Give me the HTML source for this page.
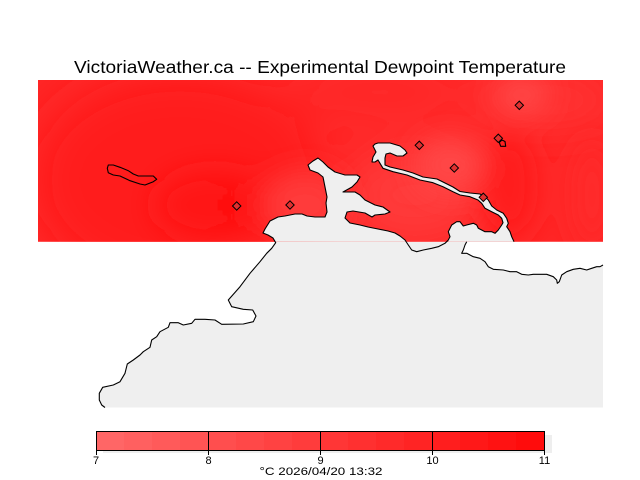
<!DOCTYPE html>
<html><head><meta charset="utf-8"><style>
html,body{margin:0;padding:0;background:#fff;}
svg{display:block;}
</style></head><body>
<svg width="640" height="480" viewBox="0 0 640 480" xmlns="http://www.w3.org/2000/svg">
<defs>
<clipPath id="c"><rect x="38" y="80" width="565" height="161.7"/></clipPath>
<filter id="b" filterUnits="userSpaceOnUse" x="0" y="0" width="640" height="480"><feGaussianBlur stdDeviation="14"/></filter>
<filter id="b2" filterUnits="userSpaceOnUse" x="0" y="0" width="640" height="480"><feGaussianBlur stdDeviation="22"/></filter>
</defs>
<rect width="640" height="480" fill="#fff"/>
<text x="320" y="73" text-anchor="middle" font-family="Liberation Sans, sans-serif" font-size="17.5" textLength="492" lengthAdjust="spacingAndGlyphs" fill="#000">VictoriaWeather.ca -- Experimental Dewpoint Temperature</text>

<!-- lower water (gray) -->
<polygon fill="#efefef" points="275,241.7 275.7,242.7 271.7,248.3 266.7,253.3 260,261.7 250,273.3 240,286.7 228.3,300 231.7,306.7 243.3,309.3 252.7,310 256,316 253.3,321.7 243.3,324 221.7,324.3 215,320 205,319.3 195,319.3 191.7,323.3 183.3,325 178.3,322.7 170,322.7 168.3,327.3 160,331.7 156.7,336.7 151.7,340 150,347.3 143.3,351.7 140,355 133.3,360 127.3,364 125,373.3 120,381.7 113.3,385 102.7,387.3 99.3,393.3 99.3,400 101.7,405 105,407.5 603,407.5 603,241.7"/>
<!-- white land right -->
<polygon fill="#fff" points="466.7,241.7 603,241.7 603,265 600,266.7 596.7,266.7 591.7,268.3 586.7,270 580,268.3 573.3,269.3 566.7,271.7 561.7,275 559.3,281.7 557.3,283.3 556.7,280 553.3,276.7 546.7,274.3 533.3,274.3 528.3,275 521.7,274.3 516.7,271.7 510,271.7 503.3,270 493.3,269.3 488.3,266.7 485,261.7 480,258.3 473.3,256.7 466.7,253.3 461.7,253.3 463.3,250 465,245"/>

<!-- red data field -->
<g clip-path="url(#c)">
<rect x="38" y="80" width="565" height="162" fill="#ff2626"/>
<g filter="url(#b2)">
<ellipse cx="180" cy="180" rx="150" ry="110" fill="#ff1d1d"/>
<ellipse cx="380" cy="92" rx="90" ry="18" fill="#ff2c2c"/>
<ellipse cx="415" cy="195" rx="70" ry="48" fill="#ff3a3a"/>
<ellipse cx="545" cy="100" rx="75" ry="24" fill="#ff3636"/>
</g>
<g filter="url(#b)">
<ellipse cx="215" cy="205" rx="60" ry="35" fill="#ff1515"/>
<ellipse cx="228" cy="205" rx="22" ry="11" fill="#ff0e0e"/>
<ellipse cx="305" cy="205" rx="42" ry="35" fill="#ff3a3a"/>
<ellipse cx="450" cy="165" rx="35" ry="28" fill="#ff4747"/>
<ellipse cx="522" cy="95" rx="28" ry="18" fill="#ff4a4a"/>
<ellipse cx="510" cy="185" rx="28" ry="55" fill="#ff1e1e"/>
<ellipse cx="592" cy="195" rx="18" ry="55" fill="#ff2a2a"/>
</g>
</g>

<!-- water over data -->
<polygon fill="#efefef" points="275,241.7 273,238 268,235 263,233 265,229 270,221 278,217 285,216 295,214 302,214 307,216 315,217 325,217 327,212 326,203 327,197 325,187 323,177 318,173 310,170 308,165 313,161 318,158 323,162 328,167 335,172 345,175 357,175 360,177 357,182 352,187 343,192 355,192 360,195 365,200 375,205 383,207 390,212 385,214 375,215 372,217 365,213 353,211 347,212 345,218 350,223 360,225 368,227 378,229 388,231 395,233 400,236 405,240 407,241.7 448.3,241.7 448.3,240 450,236.7 448.3,231.7 451.7,225 456.7,221.7 460,221.7 463.3,226 466.7,225 473.3,223.3 476.7,225 478.3,228.3 485,231.7 491.7,231.7 495,233.3 498.3,230 501.7,225 503,222.7 501.7,218.3 498.3,215 491.7,211.7 485,208.3 481.7,203.3 478,200 470,196.7 460,195 453,191.7 443,186.7 433,182.7 420,180 407,175 393,171.7 383,168.3 380,163.3 378,160 375,162 372,162 373,157 376,152 373,146 375,144 378,143 390,143 400,146 405,150 407,153 403,156 397,156 390,153 386,154 385,158 385,165 390,167 403,170 413,173 423,177 437,179 445,183 453,187 460,191.5 470,193 480,194 485,197 488.3,200 491.7,206 496.7,210 503.3,213.3 506.7,218.3 508.3,223.3 506.7,226.7 510,231.7 511.7,236.7 514,241.7"/>

<g fill="none" stroke="#000" stroke-width="1.1" stroke-linejoin="round">
<polyline points="105,407.5 101.7,405 99.3,400 99.3,393.3 102.7,387.3 113.3,385 120,381.7 125,373.3 127.3,364 133.3,360 140,355 143.3,351.7 150,347.3 151.7,340 156.7,336.7 160,331.7 168.3,327.3 170,322.7 178.3,322.7 183.3,325 191.7,323.3 195,319.3 205,319.3 215,320 221.7,324.3 243.3,324 253.3,321.7 256,316 252.7,310 243.3,309.3 231.7,306.7 228.3,300 240,286.7 250,273.3 260,261.7 266.7,253.3 271.7,248.3 275.7,242.7 273,238 268,235 263,233 265,229 270,221 278,217 285,216 295,214 302,214 307,216 315,217 325,217 327,212 326,203 327,197 325,187 323,177 318,173 310,170 308,165 313,161 318,158 323,162 328,167 335,172 345,175 357,175 360,177 357,182 352,187 343,192 355,192 360,195 365,200 375,205 383,207 390,212 385,214 375,215 372,217 365,213 353,211 347,212 345,218 350,223 360,225 368,227 378,229 388,231 395,233 400,236 405,240 408.3,245 411.7,250 416.7,251.7 423.3,250 431.7,248.3 438.3,246.7 445,243.3 448.3,240 450,236.7 448.3,231.7 451.7,225 456.7,221.7 460,221.7 463.3,226 466.7,225 473.3,223.3 476.7,225 478.3,228.3 485,231.7 491.7,231.7 495,233.3 498.3,230 501.7,225 503,222.7 501.7,218.3 498.3,215 491.7,211.7 485,208.3 481.7,203.3 478,200 470,196.7 460,195 453,191.7 443,186.7 433,182.7 420,180 407,175 393,171.7 383,168.3 380,163.3 378,160 375,162 372,162 373,157 376,152 373,146 375,144 378,143 390,143 400,146 405,150 407,153 403,156 397,156 390,153 386,154 385,158 385,165 390,167 403,170 413,173 423,177 437,179 445,183 453,187 460,191.5 470,193 480,194 485,197 488.3,200 491.7,206 496.7,210 503.3,213.3 506.7,218.3 508.3,223.3 506.7,226.7 510,231.7 511.7,236.7 514,241.7"/>
<polyline points="466.7,241.7 465,245 463.3,250 461.7,253.3 466.7,253.3 473.3,256.7 480,258.3 485,261.7 488.3,266.7 493.3,269.3 503.3,270 510,271.7 516.7,271.7 521.7,274.3 528.3,275 533.3,274.3 546.7,274.3 553.3,276.7 556.7,280 557.3,283.3 559.3,281.7 561.7,275 566.7,271.7 573.3,269.3 580,268.3 586.7,270 591.7,268.3 596.7,266.7 600,266.7 603,265"/>
<!-- island outline -->
<polygon points="108.3,165 113.3,165 120,167.3 128.3,170.7 133.3,174 138.3,176 153.3,176 156.7,179.3 153.3,181.7 145,185 140,184 130,180.7 120,176 113.3,175 108.3,172.7 107.3,168.3"/>
<!-- small pentagon -->
<polygon points="499.3,142.5 502,140 505,141.5 505.7,146.3 500.7,146.3"/>
</g>

<!-- station markers -->
<g stroke="#000" stroke-width="1" fill="#e03030">
<polygon points="236.7,201.8 240.9,206 236.7,210.2 232.5,206"/>
<polygon points="290,200.8 294.2,205 290,209.2 285.8,205"/>
<polygon points="519.3,101.1 523.5,105.3 519.3,109.5 515.1,105.3"/>
<polygon points="419.3,141.1 423.5,145.3 419.3,149.5 415.1,145.3"/>
<polygon points="454.3,163.8 458.5,168 454.3,172.2 450.1,168"/>
<polygon points="498.3,134.1 502.5,138.3 498.3,142.5 494.1,138.3"/>
<polygon points="483.3,193.1 487.5,197.3 483.3,201.5 479.1,197.3"/>
</g>

<!-- colorbar -->
<rect x="103" y="435" width="449" height="18" fill="#eeeeee"/>
<g>
<rect x="96" y="432" width="28" height="18.5" fill="#ff6666"/>
<rect x="124" y="432" width="28" height="18.5" fill="#ff6060"/>
<rect x="152" y="432" width="28" height="18.5" fill="#ff5a5a"/>
<rect x="180" y="432" width="28" height="18.5" fill="#ff5454"/>
<rect x="208" y="432" width="28" height="18.5" fill="#ff4e4e"/>
<rect x="236" y="432" width="28" height="18.5" fill="#ff4848"/>
<rect x="264" y="432" width="28" height="18.5" fill="#ff4242"/>
<rect x="292" y="432" width="28" height="18.5" fill="#ff3c3c"/>
<rect x="320" y="432" width="28" height="18.5" fill="#ff3636"/>
<rect x="348" y="432" width="28" height="18.5" fill="#ff3030"/>
<rect x="376" y="432" width="28" height="18.5" fill="#ff2a2a"/>
<rect x="404" y="432" width="28" height="18.5" fill="#ff2424"/>
<rect x="432" y="432" width="28" height="18.5" fill="#ff1e1e"/>
<rect x="460" y="432" width="28" height="18.5" fill="#ff1818"/>
<rect x="488" y="432" width="28" height="18.5" fill="#ff1212"/>
<rect x="516" y="432" width="28" height="18.5" fill="#ff0c0c"/>
</g>
<rect x="96.5" y="431.5" width="448" height="19" fill="none" stroke="#000" stroke-width="1"/>
<g stroke="#000" stroke-width="1">
<line x1="96.5" y1="431.5" x2="96.5" y2="455"/>
<line x1="208.5" y1="431.5" x2="208.5" y2="455"/>
<line x1="320.5" y1="431.5" x2="320.5" y2="455"/>
<line x1="432.5" y1="431.5" x2="432.5" y2="455"/>
<line x1="544.5" y1="431.5" x2="544.5" y2="455"/>
</g>
<g font-family="Liberation Sans, sans-serif" font-size="11" fill="#000" text-anchor="middle">
<text x="96" y="464">7</text>
<text x="208.5" y="464">8</text>
<text x="320.5" y="464">9</text>
<text x="432.5" y="464">10</text>
<text x="544.5" y="464">11</text>
<text x="321" y="475" textLength="123" lengthAdjust="spacingAndGlyphs">°C  2026/04/20 13:32</text>
</g>
</svg>
</body></html>
